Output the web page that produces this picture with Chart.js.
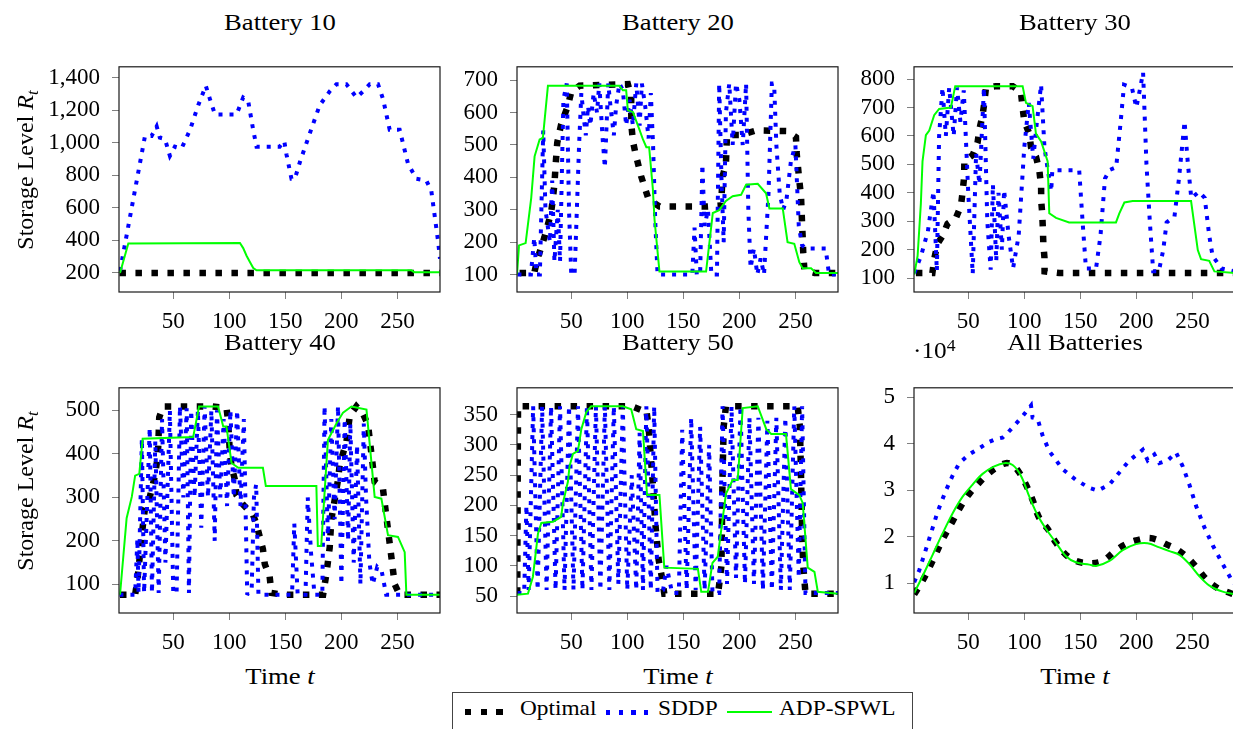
<!DOCTYPE html>
<html>
<head>
<meta charset="utf-8">
<script src="https://cdn.jsdelivr.net/npm/chart.js@4.4.0/dist/chart.umd.min.js"></script>
<style>
  html, body { margin:0; padding:0; background:#fff; }
  body { width:1233px; height:729px; overflow:hidden; position:relative;
         font-family:'Liberation Serif','Times New Roman',serif; color:#000; }
  .panel { position:absolute; }
  .ttl { position:absolute; white-space:nowrap; font-size:23.5px; line-height:24px;
         transform:translateX(-50%) scaleX(1.135); }
  .ylab { position:absolute; white-space:nowrap; font-size:24px; line-height:24px;
          transform:translate(-50%,-50%) rotate(-90deg); }
  .ylab sub, .ttl sub { font-size:70%; line-height:0; vertical-align:-0.3em; }
  .exp { position:absolute; white-space:nowrap; font-size:23px; line-height:24px;
         transform:scaleX(1.1); transform-origin:left; }
  .exp sup { font-size:70%; line-height:0; vertical-align:0.45em; }
  .smp { position:absolute; }
  .leg { position:absolute; white-space:nowrap; font-size:21px; line-height:21px; top:698px;
         transform:scaleX(1.11); transform-origin:left; }
</style>
</head>
<body>

<div class="panel" id="p1"><canvas id="c1"></canvas></div>
<div class="panel" id="p2"><canvas id="c2"></canvas></div>
<div class="panel" id="p3"><canvas id="c3"></canvas></div>
<div class="panel" id="p4"><canvas id="c4"></canvas></div>
<div class="panel" id="p5"><canvas id="c5"></canvas></div>
<div class="panel" id="p6"><canvas id="c6"></canvas></div>

<div class="ttl" style="left:279.5px; top:9.5px">Battery 10</div>
<div class="ttl" style="left:677.5px; top:9.5px">Battery 20</div>
<div class="ttl" style="left:1074.5px; top:9.5px">Battery 30</div>
<div class="ttl" style="left:279.5px; top:330px">Battery 40</div>
<div class="ttl" style="left:677.5px; top:330px">Battery 50</div>
<div class="ttl" style="left:1074.5px; top:330px">All Batteries</div>

<div class="ylab" style="left:25px; top:170px">Storage Level <i>R</i><sub><i>t</i></sub></div>
<div class="ylab" style="left:25px; top:490.5px">Storage Level <i>R</i><sub><i>t</i></sub></div>

<div class="ttl" style="left:279.5px; top:664px">Time <i>t</i></div>
<div class="ttl" style="left:677.5px; top:664px">Time <i>t</i></div>
<div class="ttl" style="left:1074.5px; top:664px">Time <i>t</i></div>

<div class="exp" style="left:913px; top:338.5px">&middot;10<sup>4</sup></div>

<div style="position:absolute; left:452px; top:692px; width:459px; height:60px; border:1.3px solid #444;"></div>
<div class="smp" style="left:465px; top:708.5px; width:38px; height:6.5px; background:repeating-linear-gradient(90deg,#000 0 6.5px,transparent 6.5px 15.7px);"></div>
<span class="leg" style="left:520px">Optimal</span>
<div class="smp" style="left:606px; top:710px; width:45px; height:4.5px; background:repeating-linear-gradient(90deg,#0000ff 0 4.5px,transparent 4.5px 12.5px);"></div>
<span class="leg" style="left:658px">SDDP</span>
<div class="smp" style="left:727px; top:711px; width:45px; height:2px; background:#00ff00;"></div>
<span class="leg" style="left:779px">ADP-SPWL</span>

<script>
// ---------------- data ----------------
const xTicks = [50, 100, 150, 200, 250];

// Battery 10
const b10_yTicks = [200, 400, 600, 800, 1000, 1200, 1400];
const b10_opt_t = [2, 288];
const b10_opt   = [198, 198];
const b10_sddp_t = [2.5, 24.8, 30.7, 35.2, 38, 42.6, 47, 51.5, 57.5, 65,
                    72.3, 78.2, 79, 82.7, 87.2, 106.5, 112.4, 116.8, 121.3, 124.3,
                    145, 149, 151, 155.5, 158.5, 163, 172, 180.7, 189.6, 195.6,
                    204.5, 213.5, 220.9, 225.3, 232.7, 237.2, 243.1, 252, 259.4, 266.9,
                    275.8, 280.3, 286.2, 288];
const b10_sddp   = [210, 1041, 1041, 1100, 1030, 1022, 918, 975, 965, 1079,
                    1230, 1334, 1350, 1268, 1173, 1173, 1277, 1258, 1079, 975,
                    975, 1010, 928, 777, 777, 880, 1060, 1230, 1315, 1359,
                    1359, 1277, 1325, 1359, 1359, 1268, 1079, 1079, 871, 777,
                    767, 701, 398, 285];
const b10_adp_t = [2.5, 9.9, 109.5, 112.4, 115.4, 118.4, 121.4, 124.3, 262.5, 265, 288];
const b10_adp   = [198, 380, 382, 351, 304, 266, 228, 214, 214, 203, 203];

// Battery 20
const b20_yTicks = [100, 200, 300, 400, 500, 600, 700];
const b20_opt_t = [3.9, 17, 20, 26, 32, 33.7, 35, 36.5, 37.5, 41,
                   47, 50, 57.4, 100.5, 103.5, 103.6, 105, 107.3, 112.4, 119,
                   128.7, 171.8, 183.7, 185, 188, 188.5, 189, 201.5, 215, 242,
                   250.5, 251, 253.5, 255, 256, 256.5, 257, 258, 267, 288];
const b20_opt   = [105, 105, 150, 214, 290, 337, 380, 460, 507, 564,
                   621, 664, 683, 688, 650, 564, 512, 474, 403, 332,
                   310, 310, 313, 403, 441, 489, 531, 531, 545, 543,
                   524, 479, 389, 342, 252, 214, 166, 114, 105, 105];
const b20_sddp_t = [2, 14, 17, 19, 22, 25, 27, 29, 31, 33,
                    35, 38, 40, 43, 46, 48, 50, 53, 55, 57,
                    59, 61, 63, 65, 67, 70, 73, 75, 78, 80,
                    83, 85, 88, 90, 93, 96, 99, 102, 105, 108,
                    111, 113, 116, 119, 121, 123, 125, 127, 158, 160,
                    162, 165, 167, 169, 172, 175, 180, 182, 184, 186,
                    188, 191, 194, 197, 200, 203, 206, 208, 210, 213,
                    216, 219, 222, 226, 229, 231, 233, 236, 239, 242,
                    246, 250, 253, 256, 260, 277, 280, 288];
const b20_sddp   = [100, 100, 214, 100, 100, 545, 300, 250, 200, 390,
                    140, 300, 140, 640, 690, 300, 100, 100, 300, 500,
                    660, 590, 530, 620, 560, 660, 600, 690, 520, 430,
                    690, 620, 530, 620, 690, 670, 560, 640, 560, 690,
                    560, 690, 620, 520, 660, 500, 260, 100, 100, 245,
                    100, 100, 440, 250, 300, 100, 100, 690, 400, 200,
                    600, 690, 500, 690, 640, 500, 690, 300, 120, 180,
                    100, 150, 100, 350, 690, 690, 500, 350, 300, 330,
                    450, 500, 250, 190, 180, 180, 100, 100];
const b20_adp_t = [1.6, 3.4, 9.3, 14.3, 17.3, 21.8, 24.7, 29.2, 93, 96,
                   99, 100.5, 105, 110.6, 114, 117, 119.5, 122.8, 124.3, 128.7,
                   170.3, 176.3, 182, 188, 194, 201.5, 206, 216.4, 223.8, 226.8,
                   238.7, 243, 249, 253.5, 256.5, 264, 268.4, 288];
const b20_adp   = [100, 190, 197, 337, 465, 517, 522, 683, 683, 669,
                   669, 607, 602, 550, 517, 493, 493, 365, 270, 109,
                   109, 290, 299, 327, 342, 346, 377, 380, 351, 304,
                   304, 200, 195, 138, 119, 119, 105, 105];

// Battery 30
const b30_yTicks = [100, 200, 300, 400, 500, 600, 700, 800];
const b30_opt_t = [3.3, 18, 19.6, 22.6, 27, 31.5, 39, 43.5, 45, 46.4,
                   46.5, 54, 58.3, 60, 62.8, 64.3, 65.8, 74.7, 89.6, 97,
                   98.5, 100, 104.5, 106, 110.4, 113.4, 115, 115.1, 116, 116.5,
                   117, 118, 118.1, 131.3, 288];
const b30_opt   = [118, 118, 167, 221, 248, 291, 312, 355, 404, 458,
                   511, 533, 576, 624, 673, 716, 770, 775, 775, 754,
                   700, 651, 608, 560, 528, 479, 425, 371, 328, 280,
                   221, 172, 124, 118, 118];
const b30_sddp_t = [2, 8, 14, 19, 22, 24, 27, 30, 33, 37,
                    40, 43, 46, 50, 54, 57, 60, 64, 67, 70,
                    72, 75, 77, 80, 82, 86, 90, 95, 100, 104,
                    108, 111, 115, 118, 121, 124, 125, 149, 152, 155,
                    164, 168, 172, 176, 182, 186, 189, 196, 200, 203,
                    206, 209, 212, 215, 220, 224, 227, 234, 238, 243,
                    246, 249, 256, 261, 265, 268, 276, 288];
const b30_sddp   = [118, 180, 265, 405, 125, 600, 770, 600, 770, 600,
                    770, 650, 760, 400, 115, 540, 430, 770, 300, 130,
                    430, 160, 400, 200, 410, 250, 135, 250, 560, 716,
                    520, 640, 780, 560, 480, 405, 479, 479, 300, 134,
                    134, 250, 450, 480, 490, 650, 780, 770, 700, 760,
                    823, 500, 300, 124, 124, 200, 296, 317, 450, 651,
                    500, 382, 404, 382, 250, 178, 134, 124];
const b30_adp_t = [1.8, 4.8, 7.7, 9.2, 12.2, 15.2, 19.6, 24, 34.5, 38.4,
                   98.5, 101.5, 107.4, 110.4, 115, 120.8, 122.3, 128.3, 140, 181.8,
                   184.8, 189.3, 196.7, 248.8, 254.8, 257.7, 265, 269.6, 288];
const b30_adp   = [113, 178, 361, 511, 603, 619, 673, 695, 700, 775,
                   775, 716, 705, 608, 581, 511, 328, 312, 296, 296,
                   328, 366, 371, 371, 199, 167, 161, 124, 118];

// Battery 40
const b40_yTicks = [100, 200, 300, 400, 500];
const b40_opt_t = [2.5, 16, 18, 20, 21.8, 23.3, 24.7, 29, 33.7, 35.5,
                   36.6, 37.5, 41, 84, 97.5, 99, 100.5, 102, 105, 106.4,
                   112.4, 121.3, 124.3, 130, 131.7, 136, 137.6, 148, 183.7, 186.7,
                   189.6, 191, 197, 198.5, 204.5, 206, 207.5, 213.4, 219.3, 223.8,
                   226.8, 229.7, 237, 240, 244.6, 247.6, 252, 288];
const b40_opt   = [76, 76, 110, 160, 209, 245, 273, 300, 350, 382,
                   417, 484, 509, 509, 506, 474, 403, 372, 340, 305,
                   283, 259, 238, 181, 146, 118, 80, 76, 76, 125,
                   185, 248, 340, 375, 428, 456, 488, 509, 492, 467,
                   400, 336, 322, 259, 163, 100, 76, 76];
const b40_sddp_t = [2, 16, 18, 19, 22, 24, 29, 31, 34, 37,
                    40, 43, 47, 50, 53, 56, 59, 62, 64, 66,
                    69, 72, 75, 78, 81, 84, 87, 89, 92, 95,
                    98, 101, 104, 107, 110, 113, 116, 120, 122, 124,
                    126, 156, 158, 161, 168, 170, 173, 176, 183, 185,
                    188, 191, 194, 197, 200, 203, 206, 208, 211, 214,
                    217, 220, 222, 225, 228, 232, 236, 240, 288];
const b40_sddp   = [76, 76, 205, 80, 435, 80, 460, 80, 430, 80,
                    480, 150, 500, 80, 80, 510, 300, 505, 80, 500,
                    300, 500, 230, 510, 300, 500, 200, 500, 300, 480,
                    280, 500, 300, 500, 280, 480, 76, 90, 300, 330,
                    76, 76, 240, 76, 76, 300, 170, 76, 76, 510,
                    200, 480, 250, 510, 100, 480, 200, 470, 150, 420,
                    100, 470, 300, 150, 100, 140, 130, 76, 76];
const b40_adp_t = [2.5, 8.4, 13, 16, 19.7, 22.7, 67.8, 73, 90, 94.6,
                   97.5, 102, 108, 130, 132.6, 177.7, 179, 182, 188, 195.6,
                   201.5, 209, 222.4, 229.7, 235.7, 241.6, 250.5, 256.5, 258, 288];
const b40_adp   = [76, 252, 301, 350, 354, 435, 439, 509, 509, 463,
                   463, 379, 368, 368, 326, 326, 188, 188, 432, 470,
                   495, 509, 502, 301, 297, 213, 209, 174, 76, 76];

// Battery 50
const b50_yTicks = [50, 100, 150, 200, 250, 300, 350];
const b50_opt_t = [1.8, 2.5, 104, 112, 117, 119, 121, 123, 125, 128,
                   131, 133, 181, 184, 185, 186, 188, 252, 254, 255,
                   256, 257, 259, 288];
const b50_opt   = [54, 364, 364, 358, 358, 330, 280, 230, 170, 110,
                   80, 54, 54, 100, 250, 330, 364, 364, 330, 250,
                   150, 100, 54, 54];
const b50_sddp_t = [2, 8, 10, 12, 16, 20, 24, 28, 32, 36,
                    40, 44, 48, 52, 56, 60, 64, 68, 72, 76,
                    80, 84, 88, 92, 96, 100, 104, 108, 111, 114,
                    117, 121, 124, 127, 132, 135, 140, 146, 149, 153,
                    157, 161, 165, 169, 173, 176, 182, 185, 189, 193,
                    197, 201, 205, 209, 213, 217, 221, 225, 229, 233,
                    237, 241, 245, 249, 253, 256, 259, 288];
const b50_sddp   = [55, 55, 200, 60, 364, 60, 364, 60, 364, 60,
                    364, 60, 364, 60, 364, 60, 364, 60, 364, 60,
                    364, 60, 364, 70, 364, 60, 250, 60, 320, 60,
                    364, 60, 364, 55, 60, 100, 55, 55, 325, 60,
                    345, 60, 330, 60, 300, 55, 55, 364, 70, 364,
                    80, 364, 70, 345, 70, 345, 60, 340, 60, 345,
                    60, 345, 60, 364, 80, 364, 55, 55];
const b50_adp_t = [1.6, 11.4, 15.8, 20.3, 23.3, 33.7, 41, 42.6, 47, 48.5,
                   51.5, 56, 59, 63.4, 67.8, 96, 103.5, 108, 114, 117.6,
                   128.7, 133, 163, 166, 172, 176, 180.7, 188, 194, 198.5,
                   203, 216.4, 224, 228.4, 241.6, 246, 253.5, 256.5, 261, 267,
                   270, 288];
const b50_adp   = [52, 54, 82, 153, 171, 173, 181, 204, 239, 265,
                   285, 290, 326, 354, 364, 364, 359, 326, 323, 217,
                   217, 97, 95, 57, 57, 105, 115, 219, 242, 242,
                   361, 364, 326, 318, 318, 227, 217, 204, 97, 90,
                   57, 54];

// All batteries (values in units of 10^4)
const all_yTicks = [1, 2, 3, 4, 5];
const all_opt_t = [1.8, 9.2, 18.2, 27.1, 36, 43.5, 50.9, 58.3, 65.8, 74.7,
                   83.6, 89.6, 95.5, 101.5, 107.4, 113.4, 120.8, 128.3, 137.2, 146,
                   158, 170, 182, 190.8, 199.7, 210, 217.6, 226.5, 235.4, 244.3,
                   253.3, 262.2, 272.6, 280, 288];
const all_opt   = [0.76, 1.05, 1.48, 1.94, 2.33, 2.66, 2.92, 3.12, 3.31, 3.48,
                   3.58, 3.54, 3.38, 3.12, 2.79, 2.40, 2.17, 1.87, 1.61, 1.48,
                   1.43, 1.48, 1.71, 1.84, 1.92, 1.97, 1.94, 1.84, 1.74, 1.58,
                   1.35, 1.09, 0.89, 0.82, 0.75];
const all_sddp_t = [1.8, 6.3, 10.7, 16.7, 22.6, 30, 36, 42, 50.9, 59.8,
                    68.8, 74.7, 80.6, 85.1, 92.6, 98.5, 106, 107.4, 111.9, 116.4,
                    122.3, 134.2, 146.1, 158, 165.5, 175.9, 184.8, 193.8, 205.7, 210.1,
                    216.1, 220.5, 228, 235.4, 241.4, 247.3, 253.3, 260.7, 268.2, 277.1,
                    284.5, 288];
const all_sddp   = [1.02, 1.28, 1.61, 2.07, 2.53, 2.99, 3.31, 3.58, 3.77, 3.90,
                    4.04, 4.10, 4.13, 4.23, 4.43, 4.59, 4.82, 4.56, 4.53, 4.17,
                    3.84, 3.45, 3.22, 3.05, 2.99, 3.12, 3.38, 3.64, 3.87, 3.64,
                    3.77, 3.58, 3.64, 3.81, 3.51, 3.12, 2.66, 2.20, 1.81, 1.41,
                    1.09, 0.97];
const all_adp_t = [1.8, 9.2, 18.2, 27.1, 36, 45, 53.9, 62.8, 73.2, 82.1,
                   89.6, 97, 104.5, 111.9, 119.3, 128.3, 137.2, 146, 158, 164,
                   176, 187.8, 199.7, 210, 220.5, 229.5, 238.4, 247.3, 256.2, 265.2,
                   277, 288];
const all_adp   = [0.79, 1.15, 1.61, 2.07, 2.50, 2.86, 3.12, 3.35, 3.51, 3.58,
                   3.54, 3.31, 2.86, 2.46, 2.17, 1.87, 1.58, 1.45, 1.40, 1.37,
                   1.48, 1.71, 1.84, 1.86, 1.77, 1.69, 1.61, 1.41, 1.15, 0.95,
                   0.82, 0.76];

// ---------------- layout ----------------
const FONT = "'Liberation Serif', 'Times New Roman', serif";
const COL_LEFT = [119, 517, 914];
const ROW_TOP = [47, 368];
const PW = 321, PH = 245;          // plot area size
const YW = 80, XH = 46, PT = 6, PR = 6;

// box around the plot area, and a short miter so sharp turns don't spike
const frame = {
  id: 'frame',
  beforeDatasetsDraw(chart) {
    chart.ctx.miterLimit = 3;
  },
  afterDatasetsDraw(chart) {
    const a = chart.chartArea, ctx = chart.ctx;
    ctx.save();
    ctx.strokeStyle = '#1a1a1a';
    ctx.lineWidth = 1.2;
    ctx.strokeRect(a.left, a.top, a.right - a.left, a.bottom - a.top);
    ctx.restore();
  }
};

function pts(t, v) {
  return t.map((x, i) => ({ x: x, y: v[i] }));
}

function lines(optT, opt, sddpT, sddp, adpT, adp, smooth) {
  return [
    { label: 'Optimal', data: pts(optT, opt), borderColor: '#000000', borderWidth: 6.5,
      borderDash: [6.5, 9.5], tension: smooth, order: 3 },
    { label: 'SDDP', data: pts(sddpT, sddp), borderColor: '#0000ff', borderWidth: 4,
      borderDash: [4, 7], tension: 0, order: 2 },
    { label: 'ADP-SPWL', data: pts(adpT, adp), borderColor: '#00ff00', borderWidth: 2,
      tension: smooth, order: 1 }
  ];
}

const panels = [
  { id: 'c1', col: 0, row: 0, yMin: 81, yMax: 1466, yTicks: b10_yTicks, comma: true,
    sets: lines(b10_opt_t, b10_opt, b10_sddp_t, b10_sddp, b10_adp_t, b10_adp, 0) },
  { id: 'c2', col: 1, row: 0, yMin: 46, yMax: 741.5, yTicks: b20_yTicks,
    sets: lines(b20_opt_t, b20_opt, b20_sddp_t, b20_sddp, b20_adp_t, b20_adp, 0) },
  { id: 'c3', col: 2, row: 0, yMin: 51.5, yMax: 843, yTicks: b30_yTicks,
    sets: lines(b30_opt_t, b30_opt, b30_sddp_t, b30_sddp, b30_adp_t, b30_adp, 0) },
  { id: 'c4', col: 0, row: 1, yMin: 34, yMax: 552, yTicks: b40_yTicks,
    sets: lines(b40_opt_t, b40_opt, b40_sddp_t, b40_sddp, b40_adp_t, b40_adp, 0) },
  { id: 'c5', col: 1, row: 1, yMin: 22, yMax: 394.5, yTicks: b50_yTicks,
    sets: lines(b50_opt_t, b50_opt, b50_sddp_t, b50_sddp, b50_adp_t, b50_adp, 0) },
  { id: 'c6', col: 2, row: 1, yMin: 0.36, yMax: 5.2, yTicks: all_yTicks,
    sets: lines(all_opt_t, all_opt, all_sddp_t, all_sddp, all_adp_t, all_adp, 0.35) }
];

panels.forEach(function (p) {
  const canvas = document.getElementById(p.id);
  const box = canvas.parentNode;
  const w = YW + PW + PR, h = PT + PH + XH;
  box.style.left = (COL_LEFT[p.col] - YW) + 'px';
  box.style.top = (ROW_TOP[p.row] - PT) + 'px';
  canvas.width = w; canvas.height = h;
  canvas.style.width = w + 'px'; canvas.style.height = h + 'px';

  new Chart(canvas.getContext('2d'), {
    type: 'line',
    data: { datasets: p.sets },
    options: {
      responsive: false,
      animation: false,
      devicePixelRatio: 1,
      layout: { padding: { left: 0, right: PR, top: PT, bottom: 0 } },
      plugins: { legend: { display: false }, tooltip: { enabled: false }, title: { display: false } },
      elements: { point: { radius: 0 }, line: { fill: false, borderCapStyle: 'butt', borderJoinStyle: 'miter' } },
      scales: {
        x: {
          type: 'linear', min: 1.6, max: 288,
          afterFit: function (s) { s.height = XH; },
          afterBuildTicks: function (s) { s.ticks = xTicks.map(v => ({ value: v })); },
          grid: { drawOnChartArea: false, drawTicks: true, tickLength: 7, color: '#808080' },
          border: { display: false },
          ticks: { padding: 9, color: '#000', maxRotation: 0, autoSkip: false,
                   font: { family: FONT, size: 23 } }
        },
        y: {
          type: 'linear', min: p.yMin, max: p.yMax,
          afterFit: function (s) { s.width = YW; },
          afterBuildTicks: function (s) { s.ticks = p.yTicks.map(v => ({ value: v })); },
          grid: { drawOnChartArea: false, drawTicks: true, tickLength: 7, color: '#808080' },
          border: { display: false },
          ticks: { padding: 12, color: '#000', autoSkip: false,
                   font: { family: FONT, size: 23 },
                   callback: function (v) { return p.comma ? v.toLocaleString('en-US') : String(v); } }
        }
      }
    },
    plugins: [frame]
  });
});
</script>
</body>
</html>
